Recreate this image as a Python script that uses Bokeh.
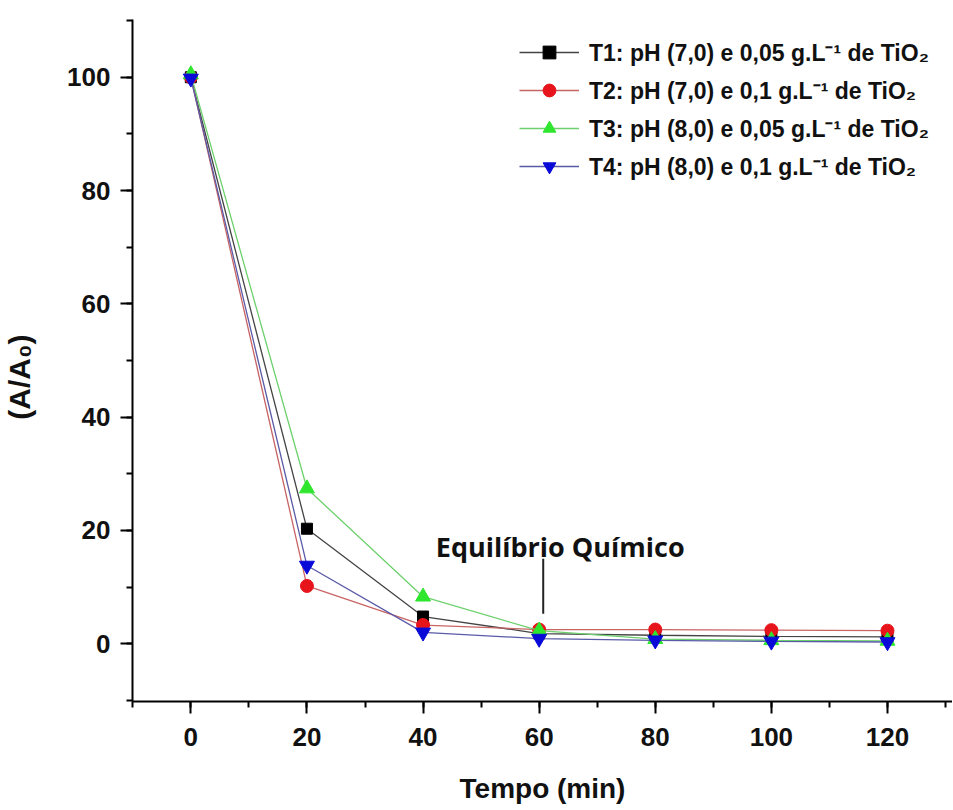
from bokeh.plotting import figure
from bokeh.models import Range1d, SingleIntervalTicker, Legend, LegendItem
from bokeh.core.properties import value
from bokeh.embed import file_html
from bokeh.resources import INLINE

# ---- data ----
tempo = [0, 20, 40, 60, 80, 100, 120]
t1 = [100.0, 20.3, 4.8, 1.8, 1.5, 1.3, 1.2]
t2 = [100.0, 10.2, 3.3, 2.5, 2.5, 2.4, 2.3]
t3 = [100.5, 27.4, 8.3, 2.3, 0.8, 0.6, 0.5]
t4 = [99.8, 13.8, 2.0, 0.9, 0.6, 0.4, 0.3]

labels = [
    "T1: pH (7,0) e 0,05 g.L\u207b\u00b9 de TiO\u2082",
    "T2: pH (7,0) e 0,1 g.L\u207b\u00b9 de TiO\u2082",
    "T3: pH (8,0) e 0,05 g.L\u207b\u00b9 de TiO\u2082",
    "T4: pH (8,0) e 0,1 g.L\u207b\u00b9 de TiO\u2082",
]
series = [t1, t2, t3, t4]
marker_colors = ["#000000", "#e8141c", "#2fe62f", "#0a0ad8"]
line_colors = ["#444444", "#c86464", "#6cd06c", "#5a5aa8"]
markers = ["square", "circle", "triangle", "inverted_triangle"]
marker_sizes = [11, 13, 15, 15]

x_title = "Tempo (min)"
y_title = "(A/A\u2080)" + "\u00a0" * 4
annot_text = "Equil\u00edbrio Qu\u00edmico"
annot_xy = (42.2, 17.1)
annot_line_x = 60.7
annot_line_y = (15.0, 5.3)

FONT = "Liberation Sans"

p = figure(width=952, height=809, output_backend="svg", toolbar_location=None,
           x_range=Range1d(-10.05, 131.2), y_range=Range1d(-10.2, 110.2),
           min_border_left=130, min_border_right=0, min_border_top=19,
           min_border_bottom=108)
p.outline_line_color = None
p.xgrid.visible = False
p.ygrid.visible = False

p.xaxis.ticker = SingleIntervalTicker(interval=20, num_minor_ticks=2)
p.yaxis.ticker = SingleIntervalTicker(interval=20, num_minor_ticks=2)
for ax in (p.xaxis, p.yaxis):
    ax.axis_line_width = 2
    ax.axis_line_color = "black"
    ax.major_tick_line_width = 2
    ax.minor_tick_line_width = 2
    ax.major_tick_line_color = "black"
    ax.minor_tick_line_color = "black"
    ax.major_tick_out = 12
    ax.major_tick_in = 0
    ax.minor_tick_out = 6
    ax.minor_tick_in = 0
    ax.major_label_text_font = FONT
    ax.major_label_text_font_style = "bold"
    ax.major_label_text_font_size = "26px"
    ax.major_label_text_color = "#111111"
    ax.axis_label_text_font = FONT
    ax.axis_label_text_font_style = "bold"
    ax.axis_label_text_font_size = "28px"
    ax.axis_label_text_color = "#111111"
p.xaxis.major_label_standoff = 14
p.yaxis.major_label_standoff = 10
p.xaxis.axis_label = x_title
p.xaxis.axis_label_standoff = 24
p.yaxis.axis_label = y_title
p.yaxis.axis_label_standoff = 28
p.yaxis.axis_label_text_font_size = "30px"

items = []
for lab, ys, mc, lc, mk, ms in zip(labels, series, marker_colors, line_colors, markers, marker_sizes):
    r1 = p.line(tempo, ys, line_color=lc, line_width=1.3)
    r2 = p.scatter(tempo, ys, marker=mk, size=ms, fill_color=mc, line_color=mc)
    items.append(LegendItem(label=lab, renderers=[r1, r2]))

legend = Legend(items=items, location=(387, 519), padding=5, margin=0,
                glyph_width=60, glyph_height=32, label_height=32,
                label_standoff=10, spacing=6,
                label_text_font=FONT, label_text_font_style="bold",
                label_text_font_size="23px", label_text_color="#111111",
                border_line_color=None, background_fill_alpha=0)
p.add_layout(legend)

p.text(x=[annot_xy[0]], y=[annot_xy[1]], text=[annot_text],
       text_font=value("Open Sans"), text_font_style="bold",
       text_font_size="27px", text_baseline="alphabetic", text_align="left",
       text_color="#111111")
p.segment(x0=[annot_line_x], y0=[annot_line_y[0]], x1=[annot_line_x], y1=[annot_line_y[1]],
          line_color="#222222", line_width=2)

open("out.html", "w").write(file_html(p, INLINE))
